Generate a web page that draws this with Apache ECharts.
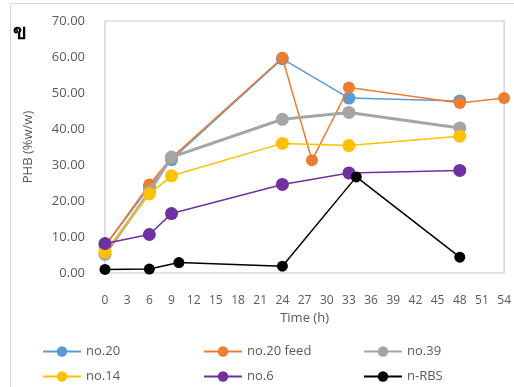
<!DOCTYPE html>
<html><head><meta charset="utf-8">
<script src="https://cdn.jsdelivr.net/npm/echarts@6/dist/echarts.min.js"></script>
<style>html,body{margin:0;padding:0;background:#fff}#c{width:514px;height:387px}</style>
</head><body><div id="c"></div>
<script>
const seriesNames = ['no.20','no.20 feed','no.39','no.14','no.6','n-RBS'];
const colors = ['#5B9BD5','#ED7D31','#A5A5A5','#FFC000','#7030A0','#000000'];
const times_no20 = [0,6,9,24,33,48];
const vals_no20 = [7.5,23.9,31.5,59.5,48.6,47.8];
const times_no20feed = [0,6,9,24,28,33,48,54];
const vals_no20feed = [7.5,24.6,32.0,59.8,31.3,51.5,47.2,48.6];
const times_no39 = [0,6,9,24,33,48];
const vals_no39 = [5.2,22.5,32.2,42.7,44.6,40.3];
const times_no14 = [0,6,9,24,33,48];
const vals_no14 = [5.8,22.0,27.0,36.0,35.4,38.0];
const times_no6 = [0,6,9,24,33,48];
const vals_no6 = [8.2,10.7,16.5,24.6,27.8,28.5];
const times_nRBS = [0,6,10,24,34,48];
const vals_nRBS = [1.0,1.1,2.9,1.9,26.7,4.4];
const xTicks = {min:0, max:54, interval:3};
const yTicks = {min:0, max:70, interval:10};

const allTimes = [times_no20,times_no20feed,times_no39,times_no14,times_no6,times_nRBS];
const allVals = [vals_no20,vals_no20feed,vals_no39,vals_no14,vals_no6,vals_nRBS];
const lineWidths = [1.5,1.5,3,1.5,1.5,1.5];
const symSizes = [13,12,13,13,13,11];

const chart = echarts.init(document.getElementById('c'));
const series = seriesNames.map((n,i)=>({
  name:n, type:'line', data: allTimes[i].map((t,j)=>[t,allVals[i][j]]),
  symbol:'circle', symbolSize:symSizes[i], color:colors[i],
  lineStyle:{width:lineWidths[i], color:colors[i]}, itemStyle:{color:colors[i]},
  z: 2+i, animation:false
}));
const legendPos = [[42,345],[203,345],[363,345],[42,370],[203,370],[363,370]];
const legends = seriesNames.map((n,i)=>({
  data:[n], left:legendPos[i][0], top:legendPos[i][1], itemWidth:38, itemHeight:13,
  padding:0, itemGap:4, textStyle:{color:'#595959', fontSize:13, fontFamily:'Open Sans', padding:[0,0,0,0]}, selectedMode:false
}));
chart.setOption({
  animation:false,
  graphic:[
    {type:'rect', shape:{x:10.5,y:3.5,width:520,height:400}, style:{fill:'none', stroke:'#d9d9d9', lineWidth:1}},
    {type:'text', left:13, top:23, style:{text:'ข', font:'bold 20px "Noto Sans", sans-serif', fill:'#000'}}
  ],
  grid:{left:105, right:5, top:21, bottom:114, show:true, borderColor:'#c8c8c8', borderWidth:1.2},
  xAxis:{type:'value', min:xTicks.min, max:xTicks.max, interval:xTicks.interval,
    name:'Time (h)', nameLocation:'middle', nameGap:36,
    nameTextStyle:{color:'#595959', fontSize:13, fontFamily:'Open Sans'},
    axisLine:{show:false}, axisTick:{show:false}, splitLine:{show:false},
    axisLabel:{color:'#595959', fontSize:12, margin:22, fontFamily:'Open Sans'}},
  yAxis:{type:'value', min:yTicks.min, max:yTicks.max, interval:yTicks.interval,
    name:'PHB (%w/w)', nameLocation:'middle', nameGap:70,
    nameTextStyle:{color:'#595959', fontSize:13, fontFamily:'Open Sans'},
    axisLine:{show:false}, axisTick:{show:false}, splitLine:{show:false},
    axisLabel:{color:'#595959', fontSize:13, margin:20, fontFamily:'Open Sans', formatter:v=>v.toFixed(2)}},
  legend: legends,
  series: series
});
</script></body></html>
